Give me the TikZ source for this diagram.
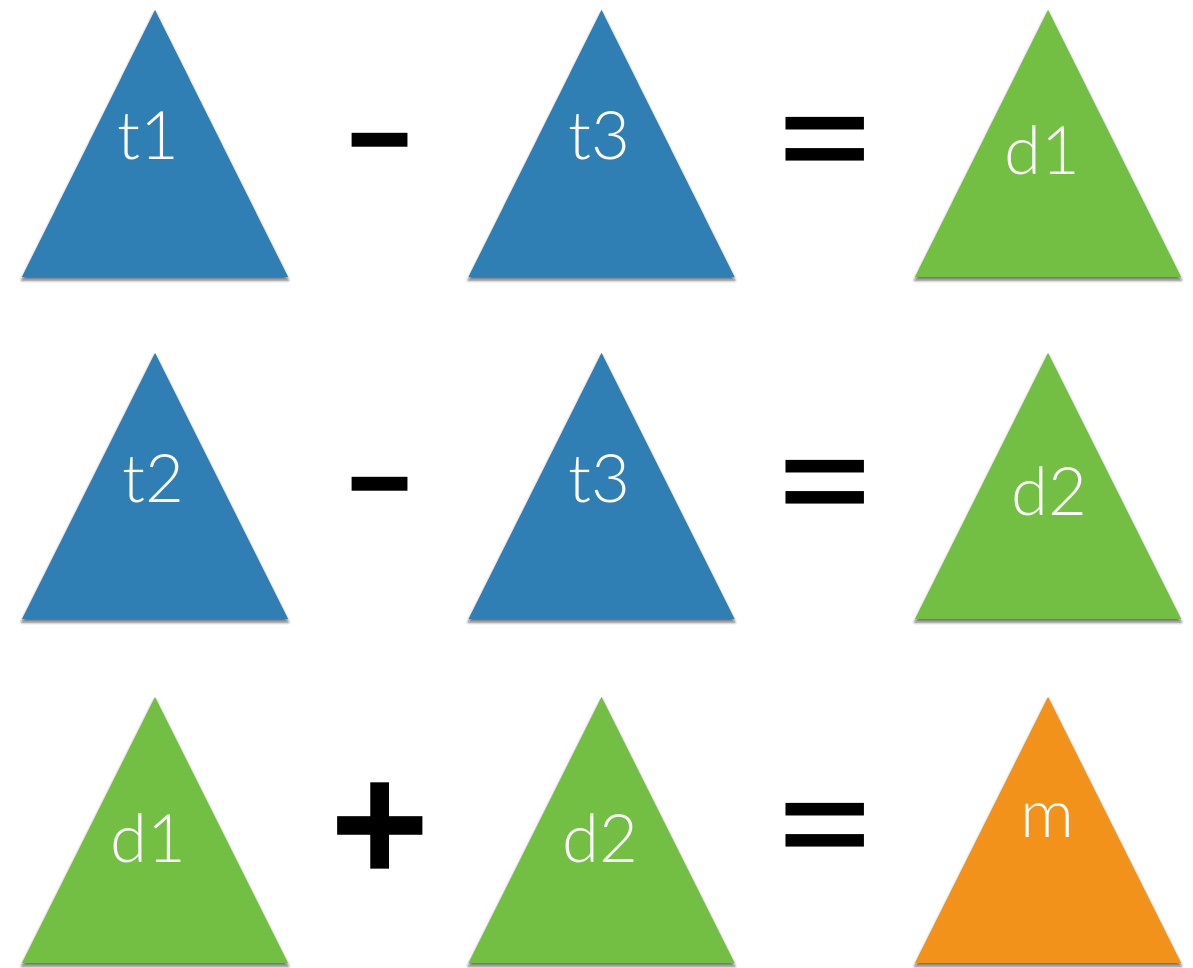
\documentclass[tikz,border=0pt]{standalone}
\usepackage{fontspec}
\usetikzlibrary{shadows.blur}
\IfFontExistsTF{Lato Light}{\newfontfamily\lblfont{Lato Light}}{\newfontfamily\lblfont{Lato}}
\newfontfamily\opfont{Liberation Sans}
\definecolor{tblue}{RGB}{47,126,180}
\definecolor{tgreen}{RGB}{114,191,68}
\definecolor{torange}{RGB}{243,146,27}
\tikzset{
  tri/.style={blur shadow={shadow xshift=0pt, shadow yshift=-3pt, shadow blur radius=3pt, shadow opacity=60}},
  lbl/.style={anchor=base, inner sep=0pt, text=white, font=\lblfont\fontsize{67}{67}\selectfont},
  op/.style={anchor=center, inner sep=0pt, text=black, font=\opfont\bfseries\fontsize{170}{170}\selectfont},
}
\newcommand{\tri}[4]{% cx, apex y, base y, colour
  \fill[#4, tri] (#1-133,#3) -- (#1,#2) -- (#1+133,#3) -- cycle;}
\begin{document}
\begin{tikzpicture}[x=1pt,y=-1pt]
\useasboundingbox (0,0) rectangle (1193,968);
% row 1
\tri{155}{10}{277}{tblue}
\tri{601.5}{10}{277}{tblue}
\tri{1048}{10}{277}{tgreen}
% row 2
\tri{155}{353}{619}{tblue}
\tri{601.5}{353}{619}{tblue}
\tri{1048}{353}{619}{tgreen}
% row 3
\tri{155}{697}{963}{tgreen}
\tri{601.5}{697}{963}{tgreen}
\tri{1048}{697}{963}{torange}
% labels
\node[lbl] (t1) at (148,160) {t1};
\node[lbl] (t3a) at (599,160) {t3};
\node[lbl] (d1a) at (1042,175) {d1};
\node[lbl] (t2) at (153,502) {t2};
\node[lbl] (t3b) at (599,502) {t3};
\node[lbl] (d2a) at (1049,515) {d2};
\node[lbl] (d1b) at (148,862) {d1};
\node[lbl] (d2b) at (600,862) {d2};
\node[lbl] (m) at (1047,837) {m};
% operators
\node[op] (minusa) at (380,152) {\scalebox{1.0}[0.53]{\fontsize{220}{220}\selectfont -}};
\node[op] (eqa) at (825,147.5) {\scalebox{0.92}[0.68]{=}};
\node[op] (minusb) at (380,496) {\scalebox{1.0}[0.53]{\fontsize{220}{220}\selectfont -}};
\node[op] (eqb) at (825,490.5) {\scalebox{0.92}[0.68]{=}};
\node[op] (plus) at (380,832.5) {+};
\node[op] (eqc) at (825,833.5) {\scalebox{0.92}[0.68]{=}};
\end{tikzpicture}
\end{document}
